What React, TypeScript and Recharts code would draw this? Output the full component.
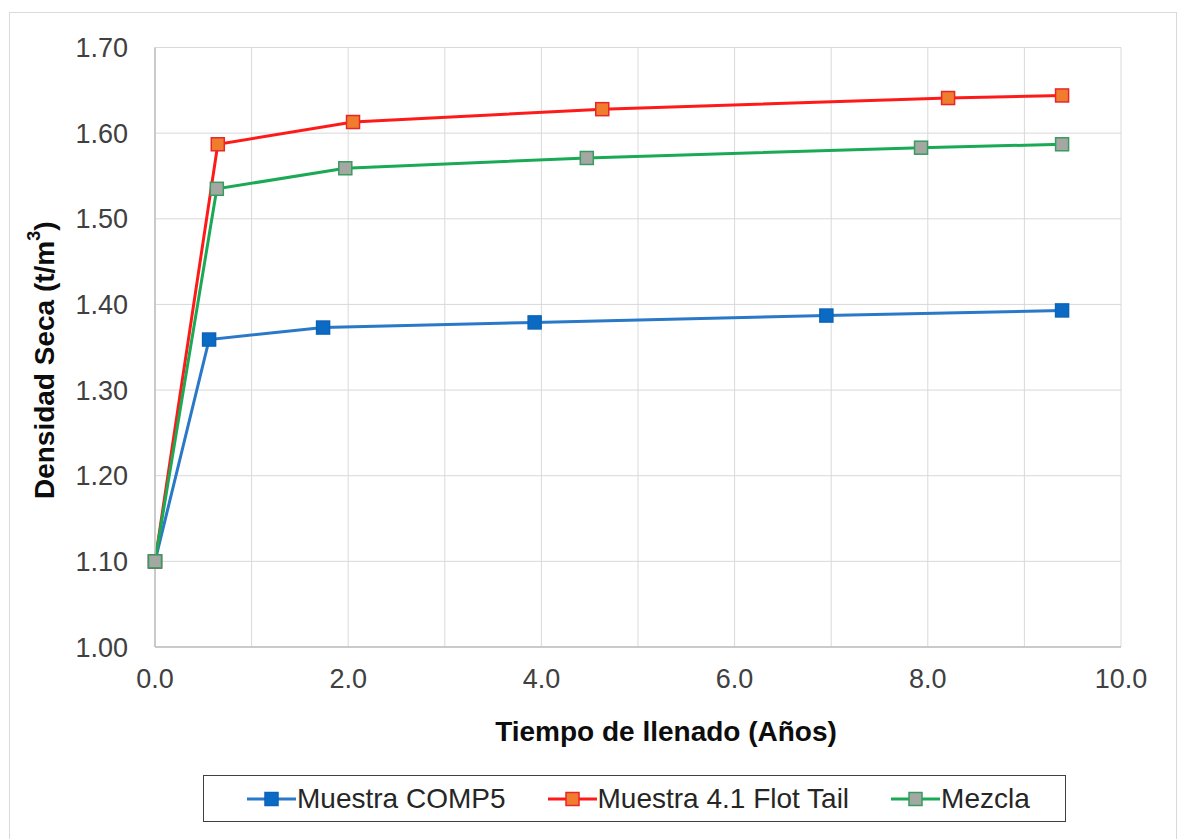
import React from 'react';
import { LineChart, Line, XAxis, YAxis, CartesianGrid, Legend } from 'recharts';

const compX = [0, 0.56, 1.74, 3.93, 6.95, 9.39];
const compY = [1.1, 1.359, 1.373, 1.379, 1.387, 1.393];
const flotX = [0, 0.65, 2.05, 4.63, 8.21, 9.39];
const flotY = [1.1, 1.587, 1.613, 1.628, 1.641, 1.644];
const mezX = [0, 0.64, 1.97, 4.47, 7.93, 9.39];
const mezY = [1.1, 1.535, 1.559, 1.571, 1.583, 1.587];

const xTicks = [0, 1, 2, 3, 4, 5, 6, 7, 8, 9, 10];
const yTicks = [1.0, 1.1, 1.2, 1.3, 1.4, 1.5, 1.6, 1.7];

const seriesNames = ['Muestra COMP5', 'Muestra 4.1 Flot Tail', 'Mezcla'];
const xTitle = 'Tiempo de llenado (Años)';

const toPoints = (xs: number[], ys: number[]) => xs.map((x, i) => ({ x, y: ys[i] }));
const compData = toPoints(compX, compY);
const flotData = toPoints(flotX, flotY);
const mezData = toPoints(mezX, mezY);

const styles = [
  { line: '#2a78c8', fill: '#0b6bc4', stroke: '#0b63b8' },
  { line: '#ff1a1a', fill: '#f07c2e', stroke: '#e8262a' },
  { line: '#1aaa55', fill: '#a3a8a3', stroke: '#3a9a60' },
];

const FONT = '"Liberation Sans", Arial, sans-serif';

const makeDot = (fill: string, stroke: string) => (props: any) => {
  const { cx, cy, index } = props;
  if (cx == null || cy == null) return <g key={index} />;
  return (
    <rect key={index} x={cx - 6.5} y={cy - 6.5} width={13} height={13} fill={fill} stroke={stroke} strokeWidth={1.5} />
  );
};

const LegendBox = () => (
  <div
    style={{
      width: 863,
      height: 47,
      border: '1.5px solid #404040',
      boxSizing: 'border-box',
      display: 'flex',
      alignItems: 'center',
      justifyContent: 'flex-start',
      paddingLeft: 43,
      gap: 42,
      fontFamily: FONT,
      fontSize: 28,
      color: '#262626',
      background: '#fff',
    }}
  >
    {seriesNames.map((n, i) => (
      <div key={n} style={{ display: 'flex', alignItems: 'center' }}>
        <svg width={49} height={20} style={{ marginRight: 1 }}>
          <line x1={0} y1={10} x2={49} y2={10} stroke={styles[i].line} strokeWidth={3} />
          <rect x={18} y={3.5} width={13} height={13} fill={styles[i].fill} stroke={styles[i].stroke} strokeWidth={1.5} />
        </svg>
        <span>{n}</span>
      </div>
    ))}
  </div>
);

const YTitle = (props: any) => {
  const vb = props.viewBox || { x: 0, y: 0, width: 0, height: 0 };
  const cx = vb.x + 36;
  const cy = vb.y + vb.height / 2 + 13;
  return (
    <text
      x={cx}
      y={cy}
      transform={`rotate(-90, ${cx}, ${cy})`}
      textAnchor="middle"
      dominantBaseline="central"
      fontFamily={FONT}
      fontWeight="bold"
      fontSize={28}
      fill="#0d0d0d"
    >
      Densidad Seca (t/m<tspan fontSize={18} dy={-10}>3</tspan><tspan dy={10}>)</tspan>
    </text>
  );
};

const XTitle = (props: any) => {
  const vb = props.viewBox || { x: 0, y: 0, width: 0, height: 0 };
  return (
    <text
      x={vb.x + vb.width / 2 + 28}
      y={vb.y + 84}
      textAnchor="middle"
      dominantBaseline="central"
      fontFamily={FONT}
      fontWeight="bold"
      fontSize={28}
      fill="#0d0d0d"
    >
      {xTitle}
    </text>
  );
};

export default function App() {
  return (
    <div style={{ position: 'relative', width: 1170, height: 831 }}>
      <div
        style={{
          position: 'absolute',
          left: 1,
          top: 4,
          width: 1168,
          height: 840,
          border: '1px solid #d9d9d9',
          boxSizing: 'border-box',
        }}
      />
      <LineChart width={1170} height={830} margin={{ top: 39.5, right: 57, left: 0, bottom: 16 }}>
        <CartesianGrid stroke="#d9d9d9" strokeWidth={1} />
        <XAxis
          type="number"
          dataKey="x"
          domain={[0, 10]}
          ticks={xTicks}
          interval={0}
          allowDuplicatedCategory={false}
          tickFormatter={(v: number) => (v % 2 === 0 ? v.toFixed(1) : '')}
          tick={{ fontSize: 27, fill: '#404040', fontFamily: FONT }}
          tickSize={0}
          tickMargin={22}
          axisLine={{ stroke: '#bfbfbf', strokeWidth: 1.5 }}
          tickLine={false}
          height={128}
          label={<XTitle />}
        />
        <YAxis
          type="number"
          domain={[1.0, 1.7]}
          ticks={yTicks}
          interval={0}
          tickFormatter={(v: number) => v.toFixed(2)}
          tick={{ fontSize: 27, fill: '#404040', fontFamily: FONT }}
          tickSize={0}
          tickMargin={27}
          axisLine={{ stroke: '#bfbfbf', strokeWidth: 1.5 }}
          tickLine={false}
          width={147}
          label={<YTitle />}
        />
        <Legend verticalAlign="bottom" content={<LegendBox />} wrapperStyle={{ left: 195, width: 863, bottom: 16 }} />
        <Line
          data={compData}
          dataKey="y"
          name={seriesNames[0]}
          stroke={styles[0].line}
          strokeWidth={3}
          dot={makeDot(styles[0].fill, styles[0].stroke)}
          isAnimationActive={false}
        />
        <Line
          data={flotData}
          dataKey="y"
          name={seriesNames[1]}
          stroke={styles[1].line}
          strokeWidth={3}
          dot={makeDot(styles[1].fill, styles[1].stroke)}
          isAnimationActive={false}
        />
        <Line
          data={mezData}
          dataKey="y"
          name={seriesNames[2]}
          stroke={styles[2].line}
          strokeWidth={3}
          dot={makeDot(styles[2].fill, styles[2].stroke)}
          isAnimationActive={false}
        />
      </LineChart>
    </div>
  );
}
